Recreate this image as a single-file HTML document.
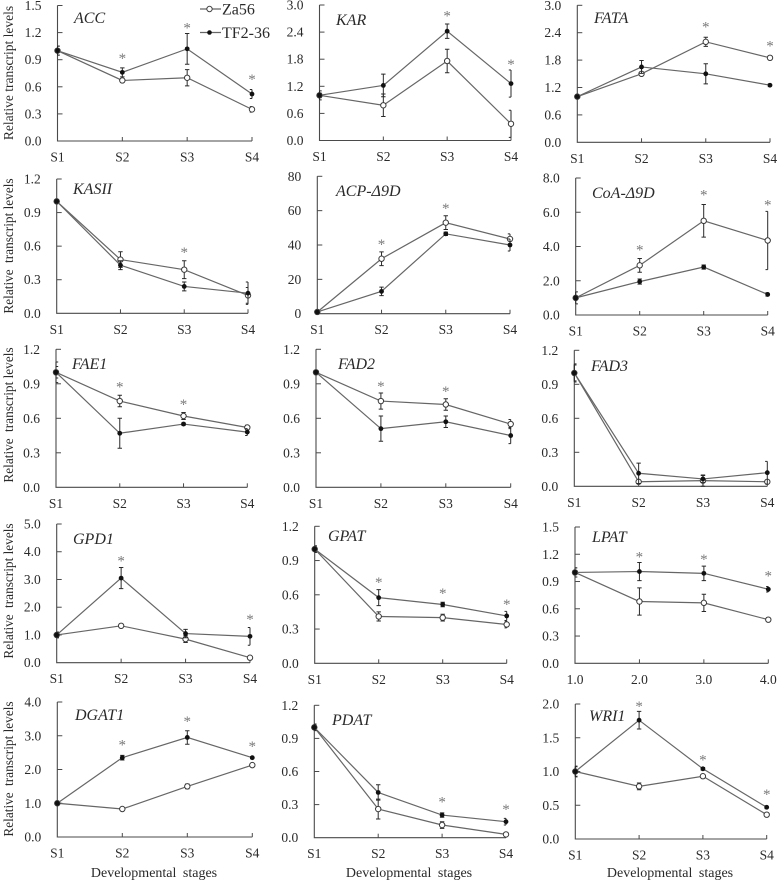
<!DOCTYPE html>
<html lang="en">
<head>
<meta charset="utf-8">
<title>Relative transcript levels across developmental stages</title>
<style>
  html, body { margin: 0; padding: 0; background: #fff; }
  #figure { display: block; width: 778px; height: 882px; filter: blur(0.3px); }
  text { font-family: "Liberation Serif", serif; fill: #2a2a2a; }
</style>
</head>
<body>
<svg id="figure" xmlns="http://www.w3.org/2000/svg" width="778" height="882" viewBox="0 0 778 882">
  <rect x="0" y="0" width="778" height="882" fill="#ffffff"></rect>
  <g id="panels"></g>

  <g>
    <g>
      <line x1="200" y1="9" x2="221" y2="9" stroke="#666" stroke-width="1.2"></line>
      <circle cx="209.5" cy="9" r="2.7" fill="#fff" stroke="#444" stroke-width="1"></circle>
      <text x="222" y="14.5" font-size="16">Za56</text>
    </g>
    <g>
      <line x1="200" y1="32.5" x2="221" y2="32.5" stroke="#666" stroke-width="1.2"></line>
      <circle cx="209.5" cy="32.5" r="2.3" fill="#111"></circle>
      <text x="222" y="38" font-size="16">TF2-36</text>
    </g>
  </g>

  <g>
    <text transform="translate(13,73) rotate(-90)" text-anchor="middle" font-size="13.5">Relative transcript levels</text>
    <text transform="translate(13,246) rotate(-90)" text-anchor="middle" font-size="13.3">Relative <tspan dx="3">transcript levels</tspan></text>
    <text transform="translate(13,415) rotate(-90)" text-anchor="middle" font-size="13.3">Relative <tspan dx="3">transcript levels</tspan></text>
    <text transform="translate(13,591) rotate(-90)" text-anchor="middle" font-size="13.3">Relative <tspan dx="3">transcript levels</tspan></text>
    <text transform="translate(13,769) rotate(-90)" text-anchor="middle" font-size="13.3">Relative <tspan dx="3">transcript levels</tspan></text>
  </g>

  <g>
    <text x="154" y="877" text-anchor="middle" font-size="14" word-spacing="3">Developmental stages</text>
    <text x="409" y="877" text-anchor="middle" font-size="14" word-spacing="3">Developmental stages</text>
    <text x="670" y="877" text-anchor="middle" font-size="14" word-spacing="3">Developmental stages</text>
  </g>
</svg>

<script>
const geneNames = ["ACC","KAR","FATA","KASII","ACP-Δ9D","CoA-Δ9D","FAE1","FAD2","FAD3","GPD1","GPAT","LPAT","DGAT1","PDAT","WRI1"];
const stageLabels = ["S1","S2","S3","S4"];
const lpatStageLabels = ["1.0","2.0","3.0","4.0"];
const yTickLabels = [
  ["0.0","0.3","0.6","0.9","1.2","1.5"],
  ["0.0","0.6","1.2","1.8","2.4","3.0"],
  ["0.0","0.6","1.2","1.8","2.4","3.0"],
  ["0.0","0.3","0.6","0.9","1.2"],
  ["0","20","40","60","80"],
  ["0.0","2.0","4.0","6.0","8.0"],
  ["0.0","0.3","0.6","0.9","1.2"],
  ["0.0","0.3","0.6","0.9","1.2"],
  ["0.0","0.3","0.6","0.9","1.2"],
  ["0.0","1.0","2.0","3.0","4.0","5.0"],
  ["0.0","0.3","0.6","0.9","1.2"],
  ["0.0","0.3","0.6","0.9","1.2","1.5"],
  ["0.0","1.0","2.0","3.0","4.0"],
  ["0.0","0.3","0.6","0.9","1.2"],
  ["0.0","0.5","1.0","1.5","2.0"]
];
const za56Means = [
  [1,0.67,0.70,0.35],[1,0.78,1.76,0.37],[1,1.5,2.2,1.85],
  [1,0.48,0.39,0.16],[1,32,53,43.5],[1,2.9,5.5,4.35],
  [1,0.75,0.62,0.52],[1,0.75,0.72,0.55],[1,0.04,0.05,0.04],
  [1,1.33,0.85,0.18],[1,0.41,0.40,0.34],[1,0.68,0.665,0.48],
  [1,0.83,1.5,2.13],[1,0.26,0.115,0.03],[1,0.78,0.93,0.36]
];
const za56Errors = [
  [0.05,0.02,0.09,0.03],[0.05,0.25,0.26,0.3],[0.02,0.03,0.1,0.02],
  [0,0.07,0.08,0.07],[0,4,4,3],[0.1,0.4,0.95,1.7],
  [0.05,0.05,0.03,0.02],[0.01,0.07,0.05,0.04],[0.08,0.01,0.05,0.01],
  [0.1,0.03,0.12,0.03],[0.02,0.04,0.03,0.03],[0.05,0.15,0.095,0.02],
  [0.02,0.02,0.07,0.03],[0.02,0.09,0.03,0.01],[0.07,0.05,0.02,0.02]
];
const tf236Means = [
  [1,0.76,1.02,0.52],[1,1.22,2.42,1.26],[1,1.65,1.5,1.25],
  [1,0.43,0.24,0.18],[1,13,46.5,40],[1,1.95,2.8,1.2],
  [1,0.47,0.55,0.48],[1,0.51,0.57,0.45],[1,0.115,0.065,0.12],
  [1,3.05,1.05,0.95],[1,0.575,0.515,0.415],[1,1.01,0.99,0.815],
  [1,2.35,2.95,2.35],[1,0.41,0.205,0.145],[1,1.76,1.04,0.47]
];
const tf236Errors = [
  [0.05,0.05,0.17,0.05],[0.1,0.25,0.16,0.3],[0.02,0.14,0.22,0.03],
  [0,0.04,0.04,0.1],[0,2.5,1,3.5],[0.35,0.15,0.12,0.1],
  [0.09,0.13,0.01,0.03],[0.01,0.11,0.05,0.07],[0.07,0.09,0.03,0.1],
  [0.1,0.38,0.15,0.32],[0.03,0.07,0.02,0.04],[0.05,0.1,0.08,0.03],
  [0.02,0.07,0.2,0.03],[0.03,0.07,0.02,0.03],[0.08,0.13,0.02,0.02]
];
const starLevels = [
  [null,0.94,1.28,0.71],[null,null,2.81,1.74],[null,null,2.58,2.16],
  [null,null,0.565,null],[null,41.7,62.6,null],[null,3.93,7.14,6.56],
  [null,0.895,0.742,null],[null,0.90,0.855,null],[null,null,null,null],
  [null,3.76,null,1.64],[null,0.73,0.633,0.537],[null,1.2,1.17,0.99],
  [null,2.8,3.49,2.75],[null,null,0.345,0.28],[null,2.0,1.21,0.70]
];

/* Layout only: plot frame of each panel as [left, right, top, bottom], and gene-title anchor as [x, y]. */
const panelFrames = [
  [57.5,252,5.5,141],[319.5,511,5,140.5],[577.3,770,5.3,142.3],
  [56.7,248,179,313.3],[317.3,510,176.3,313.7],[575.7,767.7,178,315],
  [56,247.3,349.3,487.3],[316,510.7,349.3,487.3],[574.3,767.3,350.3,486.3],
  [56.7,250,524,662.7],[314.7,506.7,526.3,663.3],[575,768.3,527,663.3],
  [57.3,252.3,702,837],[314.3,506,705.3,837.7],[575.3,766.7,704,839]
];
const titleAnchors = [
  [74,23],[336,25],[594,23],[73,194],[336,196],[592,198],
  [72,369],[338,369],[591,371],[73,544],[328,541],[592,542],
  [75,720],[332,725],[589,721]
];

const SVG_NS = "http://www.w3.org/2000/svg";
const panelsRoot = document.getElementById("panels");

function make(tag, parent, attrs, content) {
  const el = document.createElementNS(SVG_NS, tag);
  for (const key in attrs) el.setAttribute(key, attrs[key]);
  if (content !== undefined) el.textContent = content;
  parent.appendChild(el);
  return el;
}

function slug(text) {
  return text.toLowerCase().replace(/[^a-z0-9]+/g, "-");
}

function drawSeries(group, seriesName, means, errors, xScale, yScale, left, right, bottom, isOpen) {
  const seriesGroup = make("g", group, {});
  
  

  const points = means.map((v, i) => xScale(i).toFixed(2) + "," + yScale(v).toFixed(2)).join(" ");
  const line = make("polyline", seriesGroup, { points: points, fill: "none", stroke: "#666", "stroke-width": 1.2 });
  
  

  means.forEach((v, i) => {
    if (errors[i] <= 0) return;
    const x = xScale(i);
    const capLeft = Math.max(left, x - 2.2);
    const capRight = Math.min(right, x + 2.2);
    const yHigh = yScale(v + errors[i]);
    const yLow = Math.min(yScale(v - errors[i]), bottom);
    const bar = make("path", seriesGroup, {
      d: "M" + capLeft + " " + yHigh + "H" + capRight + "M" + x + " " + yHigh + "V" + yLow + "M" + capLeft + " " + yLow + "H" + capRight,
      fill: "none", stroke: "#2a2a2a", "stroke-width": 1
    });
    
    
  });

  means.forEach((v, i) => {
    const attrs = isOpen
      ? { cx: xScale(i), cy: yScale(v), r: 2.7, fill: "#fff", stroke: "#3a3a3a", "stroke-width": 1 }
      : { cx: xScale(i), cy: yScale(v), r: 2.4, fill: "#111" };
    const dot = make("circle", seriesGroup, attrs);
    
    
  });
}

geneNames.forEach((gene, p) => {
  const frame = panelFrames[p];
  const left = frame[0], right = frame[1], top = frame[2], bottom = frame[3];
  const ticks = yTickLabels[p];
  const yMax = parseFloat(ticks[ticks.length - 1]);
  const xLabels = gene === "LPAT" ? lpatStageLabels : stageLabels;
  const xScale = i => left + (right - left) * i / (xLabels.length - 1);
  const yScale = v => bottom - (bottom - top) * v / yMax;
  const name = slug(gene);

  const panel = make("g", panelsRoot, {});
  
  

  const axes = make("path", panel, {
    d: "M" + left + " " + top + "V" + bottom + "H" + right,
    fill: "none", stroke: "#4a4a4a", "stroke-width": 1.1
  });
  
  

  ticks.forEach(label => {
    const v = parseFloat(label);
    const y = yScale(v);
    if (v > 0) {
      const tick = make("line", panel, { x1: left, x2: left + 5, y1: y, y2: y, stroke: "#4a4a4a", "stroke-width": 1 });
      
      
    }
    const text = make("text", panel, { x: left - 16, y: y + 4.5, "text-anchor": "end", "font-size": 13.5 }, label);
    
    
  });

  xLabels.forEach((label, i) => {
    const x = xScale(i);
    if (i > 0) {
      const tick = make("line", panel, { x1: x, x2: x, y1: bottom - 4, y2: bottom, stroke: "#4a4a4a", "stroke-width": 1 });
      
      
    }
    const text = make("text", panel, { x: x, y: bottom + 20.5, "text-anchor": "middle", "font-size": 13.5 }, label);
    
    
  });

  drawSeries(panel, name + '-za56', za56Means[p], za56Errors[p], xScale, yScale, left, right, bottom, true);
  drawSeries(panel, name + '-tf2-36', tf236Means[p], tf236Errors[p], xScale, yScale, left, right, bottom, false);

  starLevels[p].forEach((level, i) => {
    if (level === null) return;
    const star = make("text", panel, { x: xScale(i), y: yScale(level) + 7, "text-anchor": "middle", "font-size": 15, style: "fill:#7a7a7a" }, "*");
    
    
  });

  const title = make("text", panel, { x: titleAnchors[p][0], y: titleAnchors[p][1], "font-size": 16, "font-style": "italic" }, gene);
  
  
});
</script>
</body>
</html>
